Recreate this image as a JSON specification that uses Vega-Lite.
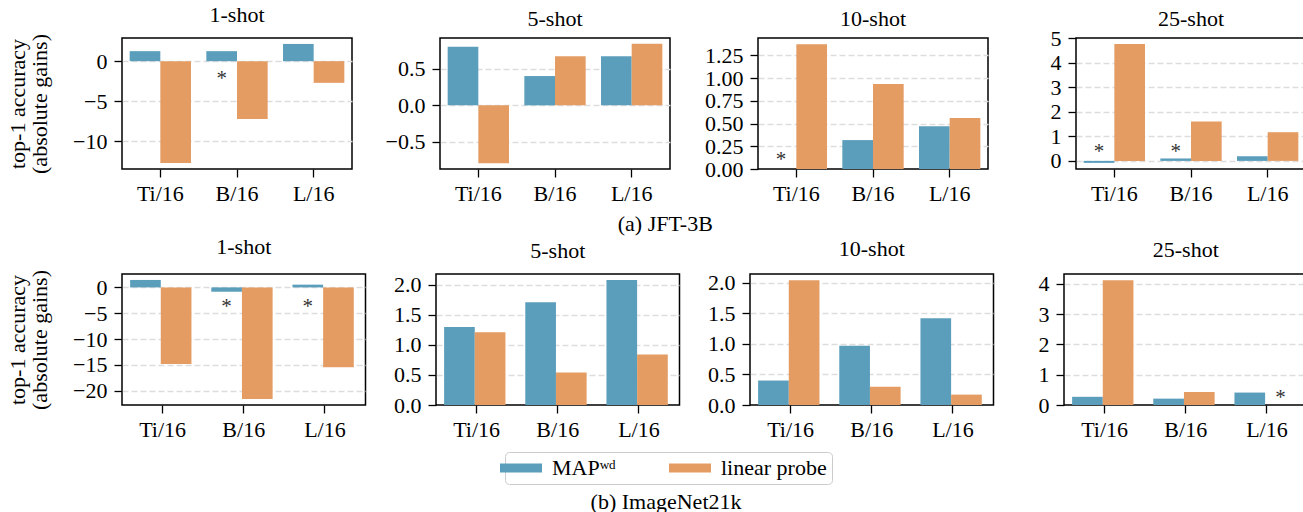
{
  "$schema": "https://vega.github.io/schema/vega-lite/v6.json",
  "padding": {"left": 5, "top": 2, "right": 0, "bottom": 0},
  "background": "white",
  "datasets": {
    "bars": [
      {"ds": "JFT-3B", "shot": "1-shot", "model": "Ti/16", "method": "MAPʷᵈ", "value": 1.25},
      {"ds": "JFT-3B", "shot": "1-shot", "model": "Ti/16", "method": "linear probe", "value": -12.7},
      {"ds": "JFT-3B", "shot": "1-shot", "model": "B/16", "method": "MAPʷᵈ", "value": 1.25},
      {"ds": "JFT-3B", "shot": "1-shot", "model": "B/16", "method": "linear probe", "value": -7.2},
      {"ds": "JFT-3B", "shot": "1-shot", "model": "L/16", "method": "MAPʷᵈ", "value": 2.15},
      {"ds": "JFT-3B", "shot": "1-shot", "model": "L/16", "method": "linear probe", "value": -2.7},
      {"ds": "JFT-3B", "shot": "5-shot", "model": "Ti/16", "method": "MAPʷᵈ", "value": 0.80},
      {"ds": "JFT-3B", "shot": "5-shot", "model": "Ti/16", "method": "linear probe", "value": -0.79},
      {"ds": "JFT-3B", "shot": "5-shot", "model": "B/16", "method": "MAPʷᵈ", "value": 0.40},
      {"ds": "JFT-3B", "shot": "5-shot", "model": "B/16", "method": "linear probe", "value": 0.67},
      {"ds": "JFT-3B", "shot": "5-shot", "model": "L/16", "method": "MAPʷᵈ", "value": 0.67},
      {"ds": "JFT-3B", "shot": "5-shot", "model": "L/16", "method": "linear probe", "value": 0.84},
      {"ds": "JFT-3B", "shot": "10-shot", "model": "Ti/16", "method": "linear probe", "value": 1.37},
      {"ds": "JFT-3B", "shot": "10-shot", "model": "B/16", "method": "MAPʷᵈ", "value": 0.318},
      {"ds": "JFT-3B", "shot": "10-shot", "model": "B/16", "method": "linear probe", "value": 0.935},
      {"ds": "JFT-3B", "shot": "10-shot", "model": "L/16", "method": "MAPʷᵈ", "value": 0.47},
      {"ds": "JFT-3B", "shot": "10-shot", "model": "L/16", "method": "linear probe", "value": 0.56},
      {"ds": "JFT-3B", "shot": "25-shot", "model": "Ti/16", "method": "MAPʷᵈ", "value": -0.08},
      {"ds": "JFT-3B", "shot": "25-shot", "model": "Ti/16", "method": "linear probe", "value": 4.77},
      {"ds": "JFT-3B", "shot": "25-shot", "model": "B/16", "method": "MAPʷᵈ", "value": 0.10},
      {"ds": "JFT-3B", "shot": "25-shot", "model": "B/16", "method": "linear probe", "value": 1.61},
      {"ds": "JFT-3B", "shot": "25-shot", "model": "L/16", "method": "MAPʷᵈ", "value": 0.19},
      {"ds": "JFT-3B", "shot": "25-shot", "model": "L/16", "method": "linear probe", "value": 1.17},
      {"ds": "ImageNet21k", "shot": "1-shot", "model": "Ti/16", "method": "MAPʷᵈ", "value": 1.44},
      {"ds": "ImageNet21k", "shot": "1-shot", "model": "Ti/16", "method": "linear probe", "value": -14.8},
      {"ds": "ImageNet21k", "shot": "1-shot", "model": "B/16", "method": "MAPʷᵈ", "value": -0.84},
      {"ds": "ImageNet21k", "shot": "1-shot", "model": "B/16", "method": "linear probe", "value": -21.6},
      {"ds": "ImageNet21k", "shot": "1-shot", "model": "L/16", "method": "MAPʷᵈ", "value": 0.53},
      {"ds": "ImageNet21k", "shot": "1-shot", "model": "L/16", "method": "linear probe", "value": -15.45},
      {"ds": "ImageNet21k", "shot": "5-shot", "model": "Ti/16", "method": "MAPʷᵈ", "value": 1.30},
      {"ds": "ImageNet21k", "shot": "5-shot", "model": "Ti/16", "method": "linear probe", "value": 1.21},
      {"ds": "ImageNet21k", "shot": "5-shot", "model": "B/16", "method": "MAPʷᵈ", "value": 1.71},
      {"ds": "ImageNet21k", "shot": "5-shot", "model": "B/16", "method": "linear probe", "value": 0.54},
      {"ds": "ImageNet21k", "shot": "5-shot", "model": "L/16", "method": "MAPʷᵈ", "value": 2.08},
      {"ds": "ImageNet21k", "shot": "5-shot", "model": "L/16", "method": "linear probe", "value": 0.84},
      {"ds": "ImageNet21k", "shot": "10-shot", "model": "Ti/16", "method": "MAPʷᵈ", "value": 0.40},
      {"ds": "ImageNet21k", "shot": "10-shot", "model": "Ti/16", "method": "linear probe", "value": 2.04},
      {"ds": "ImageNet21k", "shot": "10-shot", "model": "B/16", "method": "MAPʷᵈ", "value": 0.97},
      {"ds": "ImageNet21k", "shot": "10-shot", "model": "B/16", "method": "linear probe", "value": 0.30},
      {"ds": "ImageNet21k", "shot": "10-shot", "model": "L/16", "method": "MAPʷᵈ", "value": 1.42},
      {"ds": "ImageNet21k", "shot": "10-shot", "model": "L/16", "method": "linear probe", "value": 0.17},
      {"ds": "ImageNet21k", "shot": "25-shot", "model": "Ti/16", "method": "MAPʷᵈ", "value": 0.27},
      {"ds": "ImageNet21k", "shot": "25-shot", "model": "Ti/16", "method": "linear probe", "value": 4.11},
      {"ds": "ImageNet21k", "shot": "25-shot", "model": "B/16", "method": "MAPʷᵈ", "value": 0.21},
      {"ds": "ImageNet21k", "shot": "25-shot", "model": "B/16", "method": "linear probe", "value": 0.43},
      {"ds": "ImageNet21k", "shot": "25-shot", "model": "L/16", "method": "MAPʷᵈ", "value": 0.41}
    ],
    "stars": [
      {"ds": "JFT-3B", "shot": "1-shot", "model": "B/16", "method": "MAPʷᵈ", "value": -1.67},
      {"ds": "JFT-3B", "shot": "10-shot", "model": "Ti/16", "method": "MAPʷᵈ", "value": 0.14},
      {"ds": "JFT-3B", "shot": "25-shot", "model": "Ti/16", "method": "MAPʷᵈ", "value": 0.51},
      {"ds": "JFT-3B", "shot": "25-shot", "model": "B/16", "method": "MAPʷᵈ", "value": 0.51},
      {"ds": "ImageNet21k", "shot": "1-shot", "model": "B/16", "method": "MAPʷᵈ", "value": -3.1},
      {"ds": "ImageNet21k", "shot": "1-shot", "model": "L/16", "method": "MAPʷᵈ", "value": -3.1},
      {"ds": "ImageNet21k", "shot": "25-shot", "model": "L/16", "method": "linear probe", "value": 0.35}
    ]
  },
  "title": {"text": "(b) ImageNet21k", "orient": "bottom", "anchor": "middle", "frame": "bounds", "offset": 7, "dx": 9, "fontSize": 22},
  "spacing": -1,
  "vconcat": [
    {
      "bounds": "flush",
      "spacing": 88,
      "title": {"text": "(a) JFT-3B", "orient": "bottom", "anchor": "middle", "frame": "bounds", "offset": 9, "dx": 9, "fontSize": 22},
      "hconcat": [
        {
          "width": 230, "height": 131, "title": "1-shot",
          "layer": [
            {"data": {"name": "bars"}, "transform": [{"filter": "datum.ds === 'JFT-3B' && datum.shot === '1-shot'"}],
             "mark": {"type": "bar"},
             "encoding": {
               "x": {"field": "model", "type": "nominal", "sort": ["Ti/16", "B/16", "L/16"], "scale": {"paddingInner": 0.2, "paddingOuter": 0.1}, "axis": {"title": null, "labelAngle": 0}},
               "xOffset": {"field": "method", "type": "nominal", "sort": ["MAPʷᵈ", "linear probe"], "scale": {"domain": ["MAPʷᵈ", "linear probe"], "paddingInner": 0, "paddingOuter": 0}},
               "y": {"field": "value", "type": "quantitative", "scale": {"domain": [-13.44, 2.89], "nice": false, "zero": false}, "axis": {"values": [-10, -5, 0], "format": "d", "title": ["top-1 accuracy", "(absolute gains)"]}},
               "y2": {"datum": 0},
               "color": {"field": "method", "type": "nominal", "scale": {"domain": ["MAPʷᵈ", "linear probe"], "range": ["#5B9EBC", "#E59C63"]}, "legend": {"title": null}}
             }},
            {"data": {"name": "stars"}, "transform": [{"filter": "datum.ds === 'JFT-3B' && datum.shot === '1-shot'"}],
             "mark": {"type": "text", "text": "*", "font": "Liberation Serif", "fontSize": 21, "color": "#333333", "baseline": "middle", "dy": 4},
             "encoding": {
               "x": {"field": "model", "type": "nominal", "sort": ["Ti/16", "B/16", "L/16"], "scale": {"paddingInner": 0.2, "paddingOuter": 0.1}, "axis": {"title": null, "labelAngle": 0}},
               "xOffset": {"field": "method", "type": "nominal", "sort": ["MAPʷᵈ", "linear probe"], "scale": {"domain": ["MAPʷᵈ", "linear probe"], "paddingInner": 0, "paddingOuter": 0}},
               "y": {"field": "value", "type": "quantitative", "scale": {"domain": [-13.44, 2.89], "nice": false, "zero": false}, "axis": {"values": [-10, -5, 0], "format": "d", "title": ["top-1 accuracy", "(absolute gains)"]}}
             }}
          ]
        },
        {
          "width": 230, "height": 131, "title": "5-shot",
          "layer": [
            {"data": {"name": "bars"}, "transform": [{"filter": "datum.ds === 'JFT-3B' && datum.shot === '5-shot'"}],
             "mark": {"type": "bar"},
             "encoding": {
               "x": {"field": "model", "type": "nominal", "sort": ["Ti/16", "B/16", "L/16"], "scale": {"paddingInner": 0.2, "paddingOuter": 0.1}, "axis": {"title": null, "labelAngle": 0}},
               "xOffset": {"field": "method", "type": "nominal", "sort": ["MAPʷᵈ", "linear probe"], "scale": {"domain": ["MAPʷᵈ", "linear probe"], "paddingInner": 0, "paddingOuter": 0}},
               "y": {"field": "value", "type": "quantitative", "scale": {"domain": [-0.87, 0.92], "nice": false, "zero": false}, "axis": {"values": [-0.5, 0, 0.5], "format": ".1f", "title": null}},
               "y2": {"datum": 0},
               "color": {"field": "method", "type": "nominal", "scale": {"domain": ["MAPʷᵈ", "linear probe"], "range": ["#5B9EBC", "#E59C63"]}, "legend": {"title": null}}
             }}
          ]
        },
        {
          "width": 230, "height": 131, "title": "10-shot",
          "layer": [
            {"data": {"name": "bars"}, "transform": [{"filter": "datum.ds === 'JFT-3B' && datum.shot === '10-shot'"}],
             "mark": {"type": "bar"},
             "encoding": {
               "x": {"field": "model", "type": "nominal", "sort": ["Ti/16", "B/16", "L/16"], "scale": {"paddingInner": 0.2, "paddingOuter": 0.1}, "axis": {"title": null, "labelAngle": 0}},
               "xOffset": {"field": "method", "type": "nominal", "sort": ["MAPʷᵈ", "linear probe"], "scale": {"domain": ["MAPʷᵈ", "linear probe"], "paddingInner": 0, "paddingOuter": 0}},
               "y": {"field": "value", "type": "quantitative", "scale": {"domain": [0, 1.44], "nice": false, "zero": false}, "axis": {"values": [0, 0.25, 0.5, 0.75, 1, 1.25], "format": ".2f", "title": null, "gridOpacity": {"condition": {"test": "datum.value === 0", "value": 0}, "value": 1}}},
               "y2": {"datum": 0},
               "color": {"field": "method", "type": "nominal", "scale": {"domain": ["MAPʷᵈ", "linear probe"], "range": ["#5B9EBC", "#E59C63"]}, "legend": {"title": null}}
             }},
            {"data": {"name": "stars"}, "transform": [{"filter": "datum.ds === 'JFT-3B' && datum.shot === '10-shot'"}],
             "mark": {"type": "text", "text": "*", "font": "Liberation Serif", "fontSize": 21, "color": "#333333", "baseline": "middle", "dy": 4},
             "encoding": {
               "x": {"field": "model", "type": "nominal", "sort": ["Ti/16", "B/16", "L/16"], "scale": {"paddingInner": 0.2, "paddingOuter": 0.1}, "axis": {"title": null, "labelAngle": 0}},
               "xOffset": {"field": "method", "type": "nominal", "sort": ["MAPʷᵈ", "linear probe"], "scale": {"domain": ["MAPʷᵈ", "linear probe"], "paddingInner": 0, "paddingOuter": 0}},
               "y": {"field": "value", "type": "quantitative", "scale": {"domain": [0, 1.44], "nice": false, "zero": false}, "axis": {"values": [0, 0.25, 0.5, 0.75, 1, 1.25], "format": ".2f", "title": null, "gridOpacity": {"condition": {"test": "datum.value === 0", "value": 0}, "value": 1}}}
             }}
          ]
        },
        {
          "width": 230, "height": 131, "title": {"text": "25-shot", "offset": -4},
          "layer": [
            {"data": {"name": "bars"}, "transform": [{"filter": "datum.ds === 'JFT-3B' && datum.shot === '25-shot'"}],
             "mark": {"type": "bar"},
             "encoding": {
               "x": {"field": "model", "type": "nominal", "sort": ["Ti/16", "B/16", "L/16"], "scale": {"paddingInner": 0.2, "paddingOuter": 0.1}, "axis": {"title": null, "labelAngle": 0}},
               "xOffset": {"field": "method", "type": "nominal", "sort": ["MAPʷᵈ", "linear probe"], "scale": {"domain": ["MAPʷᵈ", "linear probe"], "paddingInner": 0, "paddingOuter": 0}},
               "y": {"field": "value", "type": "quantitative", "scale": {"domain": [-0.33, 5.01], "nice": false, "zero": false}, "axis": {"values": [0, 1, 2, 3, 4, 5], "format": "d", "title": null, "gridOpacity": {"condition": {"test": "datum.value === 5", "value": 0}, "value": 1}}},
               "y2": {"datum": 0},
               "color": {"field": "method", "type": "nominal", "scale": {"domain": ["MAPʷᵈ", "linear probe"], "range": ["#5B9EBC", "#E59C63"]}, "legend": {"title": null}}
             }},
            {"data": {"name": "stars"}, "transform": [{"filter": "datum.ds === 'JFT-3B' && datum.shot === '25-shot'"}],
             "mark": {"type": "text", "text": "*", "font": "Liberation Serif", "fontSize": 21, "color": "#333333", "baseline": "middle", "dy": 4},
             "encoding": {
               "x": {"field": "model", "type": "nominal", "sort": ["Ti/16", "B/16", "L/16"], "scale": {"paddingInner": 0.2, "paddingOuter": 0.1}, "axis": {"title": null, "labelAngle": 0}},
               "xOffset": {"field": "method", "type": "nominal", "sort": ["MAPʷᵈ", "linear probe"], "scale": {"domain": ["MAPʷᵈ", "linear probe"], "paddingInner": 0, "paddingOuter": 0}},
               "y": {"field": "value", "type": "quantitative", "scale": {"domain": [-0.33, 5.01], "nice": false, "zero": false}, "axis": {"values": [0, 1, 2, 3, 4, 5], "format": "d", "title": null, "gridOpacity": {"condition": {"test": "datum.value === 5", "value": 0}, "value": 1}}}
             }}
          ]
        }
      ]
    },
    {
      "bounds": "flush",
      "spacing": 70,
      "hconcat": [
        {
          "width": 243.5, "height": 131, "title": {"text": "1-shot", "offset": 11},
          "layer": [
            {"data": {"name": "bars"}, "transform": [{"filter": "datum.ds === 'ImageNet21k' && datum.shot === '1-shot'"}],
             "mark": {"type": "bar"},
             "encoding": {
               "x": {"field": "model", "type": "nominal", "sort": ["Ti/16", "B/16", "L/16"], "scale": {"paddingInner": 0.2, "paddingOuter": 0.1}, "axis": {"title": null, "labelAngle": 0}},
               "xOffset": {"field": "method", "type": "nominal", "sort": ["MAPʷᵈ", "linear probe"], "scale": {"domain": ["MAPʷᵈ", "linear probe"], "paddingInner": 0, "paddingOuter": 0}},
               "y": {"field": "value", "type": "quantitative", "scale": {"domain": [-22.75, 2.59], "nice": false, "zero": false}, "axis": {"values": [-20, -15, -10, -5, 0], "format": "d", "title": ["top-1 accuracy", "(absolute gains)"]}},
               "y2": {"datum": 0},
               "color": {"field": "method", "type": "nominal", "scale": {"domain": ["MAPʷᵈ", "linear probe"], "range": ["#5B9EBC", "#E59C63"]}, "legend": {"title": null}}
             }},
            {"data": {"name": "stars"}, "transform": [{"filter": "datum.ds === 'ImageNet21k' && datum.shot === '1-shot'"}],
             "mark": {"type": "text", "text": "*", "font": "Liberation Serif", "fontSize": 21, "color": "#333333", "baseline": "middle", "dy": 4},
             "encoding": {
               "x": {"field": "model", "type": "nominal", "sort": ["Ti/16", "B/16", "L/16"], "scale": {"paddingInner": 0.2, "paddingOuter": 0.1}, "axis": {"title": null, "labelAngle": 0}},
               "xOffset": {"field": "method", "type": "nominal", "sort": ["MAPʷᵈ", "linear probe"], "scale": {"domain": ["MAPʷᵈ", "linear probe"], "paddingInner": 0, "paddingOuter": 0}},
               "y": {"field": "value", "type": "quantitative", "scale": {"domain": [-22.75, 2.59], "nice": false, "zero": false}, "axis": {"values": [-20, -15, -10, -5, 0], "format": "d", "title": ["top-1 accuracy", "(absolute gains)"]}}
             }}
          ]
        },
        {
          "width": 243.5, "height": 131, "title": {"text": "5-shot", "offset": 11},
          "layer": [
            {"data": {"name": "bars"}, "transform": [{"filter": "datum.ds === 'ImageNet21k' && datum.shot === '5-shot'"}],
             "mark": {"type": "bar"},
             "encoding": {
               "x": {"field": "model", "type": "nominal", "sort": ["Ti/16", "B/16", "L/16"], "scale": {"paddingInner": 0.2, "paddingOuter": 0.1}, "axis": {"title": null, "labelAngle": 0}},
               "xOffset": {"field": "method", "type": "nominal", "sort": ["MAPʷᵈ", "linear probe"], "scale": {"domain": ["MAPʷᵈ", "linear probe"], "paddingInner": 0, "paddingOuter": 0}},
               "y": {"field": "value", "type": "quantitative", "scale": {"domain": [0, 2.18], "nice": false, "zero": false}, "axis": {"values": [0, 0.5, 1, 1.5, 2], "format": ".1f", "title": null, "gridOpacity": {"condition": {"test": "datum.value === 0", "value": 0}, "value": 1}}},
               "y2": {"datum": 0},
               "color": {"field": "method", "type": "nominal", "scale": {"domain": ["MAPʷᵈ", "linear probe"], "range": ["#5B9EBC", "#E59C63"]}, "legend": {"title": null}}
             }}
          ]
        },
        {
          "width": 243.5, "height": 131, "title": {"text": "10-shot", "offset": 11},
          "layer": [
            {"data": {"name": "bars"}, "transform": [{"filter": "datum.ds === 'ImageNet21k' && datum.shot === '10-shot'"}],
             "mark": {"type": "bar"},
             "encoding": {
               "x": {"field": "model", "type": "nominal", "sort": ["Ti/16", "B/16", "L/16"], "scale": {"paddingInner": 0.2, "paddingOuter": 0.1}, "axis": {"title": null, "labelAngle": 0}},
               "xOffset": {"field": "method", "type": "nominal", "sort": ["MAPʷᵈ", "linear probe"], "scale": {"domain": ["MAPʷᵈ", "linear probe"], "paddingInner": 0, "paddingOuter": 0}},
               "y": {"field": "value", "type": "quantitative", "scale": {"domain": [0, 2.142], "nice": false, "zero": false}, "axis": {"values": [0, 0.5, 1, 1.5, 2], "format": ".1f", "title": null, "gridOpacity": {"condition": {"test": "datum.value === 0", "value": 0}, "value": 1}}},
               "y2": {"datum": 0},
               "color": {"field": "method", "type": "nominal", "scale": {"domain": ["MAPʷᵈ", "linear probe"], "range": ["#5B9EBC", "#E59C63"]}, "legend": {"title": null}}
             }}
          ]
        },
        {
          "width": 243.5, "height": 131, "title": {"text": "25-shot", "offset": 11},
          "layer": [
            {"data": {"name": "bars"}, "transform": [{"filter": "datum.ds === 'ImageNet21k' && datum.shot === '25-shot'"}],
             "mark": {"type": "bar"},
             "encoding": {
               "x": {"field": "model", "type": "nominal", "sort": ["Ti/16", "B/16", "L/16"], "scale": {"paddingInner": 0.2, "paddingOuter": 0.1}, "axis": {"title": null, "labelAngle": 0}},
               "xOffset": {"field": "method", "type": "nominal", "sort": ["MAPʷᵈ", "linear probe"], "scale": {"domain": ["MAPʷᵈ", "linear probe"], "paddingInner": 0, "paddingOuter": 0}},
               "y": {"field": "value", "type": "quantitative", "scale": {"domain": [0, 4.32], "nice": false, "zero": false}, "axis": {"values": [0, 1, 2, 3, 4], "format": "d", "title": null, "gridOpacity": {"condition": {"test": "datum.value === 0", "value": 0}, "value": 1}}},
               "y2": {"datum": 0},
               "color": {"field": "method", "type": "nominal", "scale": {"domain": ["MAPʷᵈ", "linear probe"], "range": ["#5B9EBC", "#E59C63"]}, "legend": {"title": null}}
             }},
            {"data": {"name": "stars"}, "transform": [{"filter": "datum.ds === 'ImageNet21k' && datum.shot === '25-shot'"}],
             "mark": {"type": "text", "text": "*", "font": "Liberation Serif", "fontSize": 21, "color": "#333333", "baseline": "middle", "dy": 4},
             "encoding": {
               "x": {"field": "model", "type": "nominal", "sort": ["Ti/16", "B/16", "L/16"], "scale": {"paddingInner": 0.2, "paddingOuter": 0.1}, "axis": {"title": null, "labelAngle": 0}},
               "xOffset": {"field": "method", "type": "nominal", "sort": ["MAPʷᵈ", "linear probe"], "scale": {"domain": ["MAPʷᵈ", "linear probe"], "paddingInner": 0, "paddingOuter": 0}},
               "y": {"field": "value", "type": "quantitative", "scale": {"domain": [0, 4.32], "nice": false, "zero": false}, "axis": {"values": [0, 1, 2, 3, 4], "format": "d", "title": null, "gridOpacity": {"condition": {"test": "datum.value === 0", "value": 0}, "value": 1}}}
             }}
          ]
        }
      ]
    }
  ],
  "config": {
    "font": "Liberation Serif",
    "view": {"stroke": "black", "strokeWidth": 1.5},
    "axis": {"labelFont": "Liberation Serif", "labelFontSize": 22, "labelColor": "black", "tickColor": "black", "tickSize": 8, "tickWidth": 1.3, "domain": false, "titleFont": "Liberation Serif", "titleFontSize": 22, "titleFontWeight": "normal", "titleColor": "black"},
    "axisY": {"grid": true, "gridColor": "#dddddd", "gridDash": [6, 3], "gridWidth": 1.3, "titlePadding": 21, "titleLineHeight": 22, "labelPadding": 7},
    "axisX": {"grid": false, "labelAngle": 0, "labelPadding": 6},
    "title": {"font": "Liberation Serif", "fontSize": 22, "fontWeight": "normal", "color": "black", "offset": 7},
    "legend": {"orient": "none", "legendX": 383, "legendY": 414, "direction": "horizontal", "labelFont": "Liberation Serif", "labelFontSize": 22, "labelColor": "black", "labelOffset": 20, "columnPadding": 53, "padding": 5, "strokeColor": "#cccccc", "fillColor": "white", "cornerRadius": 4, "symbolType": "M-2.1,-0.45H2.1V0.45H-2.1Z", "symbolSize": 400, "symbolStrokeWidth": 0, "symbolOpacity": 1}
  }
}
